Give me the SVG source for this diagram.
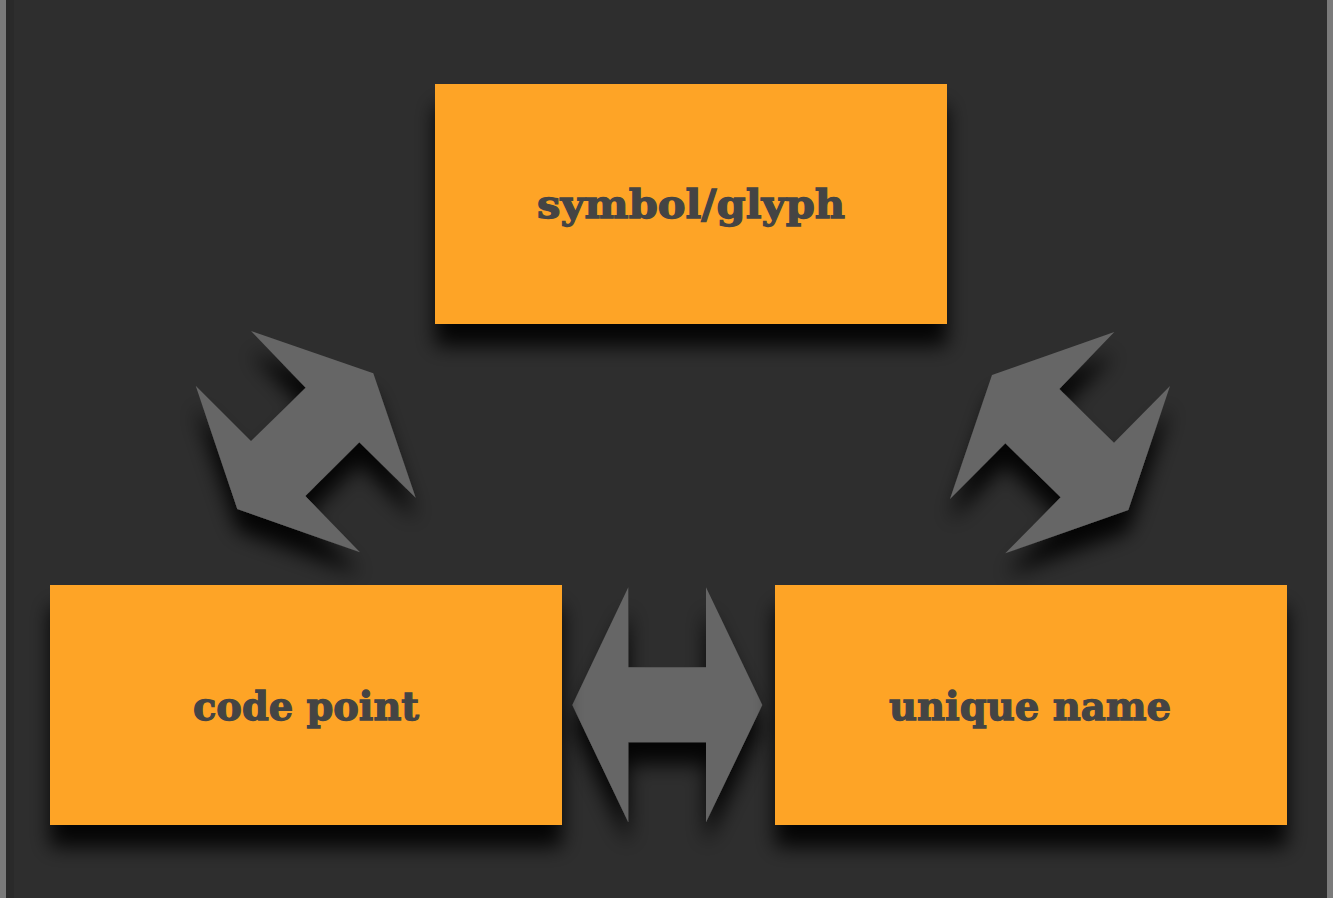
<svg xmlns="http://www.w3.org/2000/svg" width="1333" height="898" viewBox="0 0 1333 898">
<defs>
<filter id="sh" x="-20%" y="-20%" width="140%" height="170%">
<feDropShadow dx="0" dy="22" stdDeviation="10" flood-color="#000" flood-opacity="0.9"/>
</filter>
<style>
.box{fill:#fea427;filter:url(#sh)}
.arr{fill:#666666;filter:url(#sh)}
.lbl{font-family:"DejaVu Serif",serif;font-weight:bold;font-size:40px;fill:#444444;stroke:#444444;stroke-width:1.3;text-anchor:middle}
</style>
</defs>
<rect x="0" y="0" width="1333" height="898" fill="#2e2e2e"/>
<rect x="0" y="0" width="6" height="898" fill="#7a7a7a"/>
<rect x="6" y="0" width="8" height="898" fill="#2a2a2a"/>
<rect x="1327" y="0" width="6" height="898" fill="#7a7a7a"/>
<g id="connectors">
<polygon class="arr" points="251,331 373.3,373.3 415.7,497.7 359.3,442.3 305.3,496 360,552.3 237.3,509 195.7,385.7 251,441 305.7,387.7"/>
<polygon class="arr" points="1114.3,332 1059.3,389 1114,442.7 1170,386 1128.3,510 1005.3,553.3 1060.7,497.3 1005.3,443.3 950,499 992,375"/>
<polygon class="arr" points="628.3,587.3 628.3,667.3 706,667.3 706,587.3 762.3,705 706,822.3 706,742.3 628.3,742.3 628.3,822.3 572.3,705"/>
</g>
<g id="node-symbol">
<rect class="box" x="435" y="84" width="512" height="240"/>
<text class="lbl" x="691" y="218" textLength="308" lengthAdjust="spacingAndGlyphs">symbol/glyph</text>
</g>
<g id="node-codepoint">
<rect class="box" x="50" y="585" width="512" height="240"/>
<text class="lbl" x="306" y="720" textLength="226" lengthAdjust="spacingAndGlyphs">code point</text>
</g>
<g id="node-uniquename">
<rect class="box" x="775" y="585" width="512" height="240"/>
<text class="lbl" x="1030" y="720" textLength="282" lengthAdjust="spacingAndGlyphs">unique name</text>
</g>
</svg>
